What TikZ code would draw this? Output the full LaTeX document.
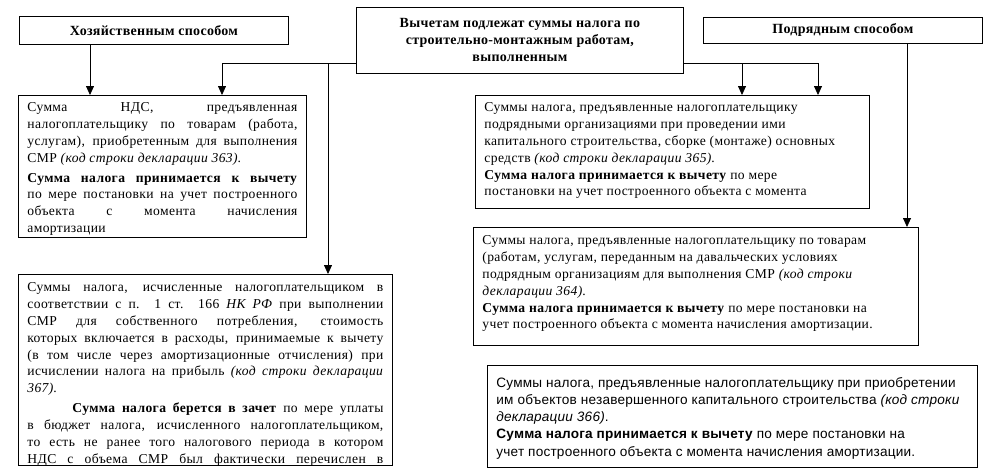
\documentclass[tikz,border=0pt]{standalone}
\usepackage{fontspec}
\setmainfont{Liberation Serif}[LetterSpace=2.8]
\newfontfamily\arialf{Liberation Sans}[LetterSpace=1.5]
\newfontfamily\titlef{Liberation Serif}[LetterSpace=2]
\usetikzlibrary{arrows.meta}
\newcommand{\jl}[1]{\makebox[\linewidth][s]{#1}}
\newcommand{\tbox}[4]{\parbox[c][#2][t]{#1}{\vspace*{#3}\raggedright #4}}
\begin{document}
\begin{tikzpicture}[x=1pt,y=-1pt,
  box/.style={draw, line width=0.8pt, anchor=north west, inner xsep=9pt, inner ysep=0pt,
    font=\fontsize{13.6}{16.9}\selectfont},
  title/.style={draw, line width=0.8pt, anchor=north west, inner sep=0pt, align=center,
    font=\titlef\bfseries\fontsize{14}{17}\selectfont},
  arr/.style={-{Triangle[width=8pt,length=9pt]}, line width=0.8pt},
  ln/.style={line width=0.8pt}]
\useasboundingbox (0,0) rectangle (984,471);

\node[title, minimum width=269pt, minimum height=28pt] (hoz) at (19,16) {Хозяйственным способом};
\node[title, minimum width=327pt, minimum height=66pt] (center) at (356,7)
  {Вычетам подлежат суммы налога по\\строительно-монтажным работам,\\выполненным};
\node[title, minimum width=279pt, minimum height=26pt] (podr) at (703,17) {Подрядным способом};

\node[box] (b1) at (18,95) {\tbox{270pt}{142pt}{7pt}{%
\jl{Сумма НДС, предъявленная}\\
\jl{налогоплательщику по товарам (работа,}\\
\jl{услугам), приобретенным для выполнения}\\
СМР \textit{(код строки декларации 363)}.\par\vspace{3pt}
\jl{\textbf{Сумма налога принимается к вычету}}\\
\jl{по мере постановки на учет построенного}\\
\jl{объекта с момента начисления}\\
амортизации}};

\node[box] (b2) at (475,95) {\tbox{376pt}{113pt}{7pt}{%
Суммы налога, предъявленные налогоплательщику\\
подрядными организациями при проведении ими\\
капитального строительства, сборке (монтаже) основных\\
средств \textit{(код строки декларации 365)}.\\
\textbf{Сумма налога принимается к вычету} по мере\\
постановки на учет построенного объекта с момента}};

\node[box] (b3) at (18,274) {\tbox{356pt}{191pt}{8pt}{%
\jl{Суммы налога, исчисленные налогоплательщиком в}\\
\jl{соответствии с п. 1 ст. 166 \textit{НК РФ} при выполнении}\\
\jl{СМР для собственного потребления, стоимость}\\
\jl{которых включается в расходы, принимаемые к вычету}\\
\jl{(в том числе через амортизационные отчисления) при}\\
\jl{исчислении налога на прибыль \textit{(код строки декларации}}\\
\textit{367)}.\par\vspace{3pt}
\jl{\hspace*{45pt}\textbf{Сумма налога берется в зачет} по мере уплаты}\\
\jl{в бюджет налога, исчисленного налогоплательщиком,}\\
\jl{то есть не ранее того налогового периода в котором}\\
\jl{НДС с объема СМР был фактически перечислен в}}};

\node[box] (b4) at (473,227) {\tbox{427pt}{118pt}{8pt}{%
Суммы налога, предъявленные налогоплательщику по товарам\\
(работам, услугам, переданным на давальческих условиях\\
подрядным организациям для выполнения СМР \textit{(код строки}\\
\textit{декларации 364)}.\\
\textbf{Сумма налога принимается к вычету} по мере постановки на\\
учет построенного объекта с момента начисления амортизации.}};

\node[box, font=\arialf\fontsize{13.6}{17.2}\selectfont] (b5) at (487,365) {\tbox{472pt}{102pt}{12pt}{%
Суммы налога, предъявленные налогоплательщику при приобретении\\
им объектов незавершенного капитального строительства \textit{(код строки}\\
\textit{декларации 366)}.\\
\textbf{Сумма налога принимается к вычету} по мере постановки на\\
учет построенного объекта с момента начисления амортизации.}};

\coordinate (hx) at (90,44);
\coordinate (jl) at (222,63);
\coordinate (jm) at (328,63);
\coordinate (jr1) at (742,63);
\coordinate (jr) at (818,63);
\coordinate (px) at (907,43);

\draw[arr] (hoz.south -| hx) -- (hx |- b1.north);
\draw[ln] (center.west |- jl) -- (jl);
\draw[arr] (jl) -- (jl |- b1.north);
\draw[arr] (jm) -- (jm |- b3.north);
\draw[ln] (center.east |- jr) -- (jr);
\draw[arr] (jr) -- (jr |- b2.north);
\draw[arr] (jr1) -- (jr1 |- b2.north);
\draw[arr] (podr.south -| px) -- (px |- b4.north);
\end{tikzpicture}
\end{document}
